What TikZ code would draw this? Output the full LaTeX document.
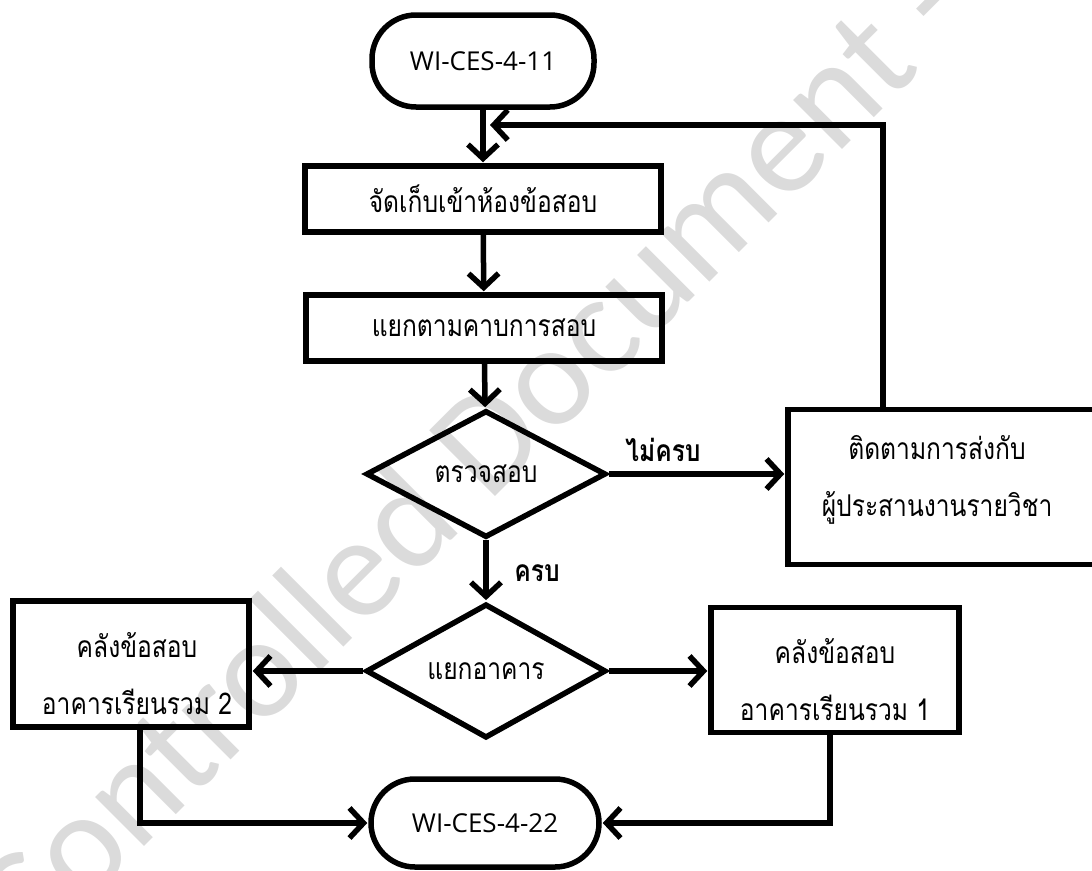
\documentclass[tikz,border=0pt]{standalone}
\usepackage{fontspec}
\setmainfont{Open Sans}
\newfontfamily\thai[Script=Thai, FakeStretch=0.82]{Loma}
\newfontfamily\wmfont{Carlito}
\usetikzlibrary{shapes.geometric,arrows.meta}
\begin{document}
\begin{tikzpicture}[x=1pt,y=-1pt,
  line width=5.5pt,
  box/.style={draw, rectangle, inner sep=0pt, font=\thai\fontsize{30}{57}\selectfont, align=center},
  txt/.style={inner sep=0pt, font=\thai\fontsize{30}{57}\selectfont, align=center},
  term/.style={draw, rectangle, rounded corners=44pt, inner sep=0pt, font=\fontsize{26}{30}\selectfont},
  dec/.style={draw, diamond, inner sep=0pt, minimum width=240pt, minimum height=127pt, font=\thai\fontsize{30}{34}\selectfont},
  lbl/.style={font=\thai\bfseries\fontsize{30}{34}\selectfont, inner sep=0pt},
  arr/.style={-{Straight Barb[length=14pt,width=30pt]}, shorten >=1pt},
  wm/.style={text=black!14, font=\wmfont\fontsize{145}{150}\selectfont, rotate=45, inner sep=0pt}
]
\clip (0,0) rectangle (1092,870);
\node[wm] (wm) at (468,453) {Controlled Document -};
\node[term, minimum width=222pt, minimum height=92pt] (s) at (483,61) {WI-CES-4-11};
\node[box, minimum width=356pt, minimum height=66pt] (b1) at (483,199) {จัดเก็บเข้าห้องข้อสอบ};
\node[box, minimum width=356pt, minimum height=66pt] (b2) at (484,328) {แยกตามคาบการสอบ};
\node[dec] (d1) at (486,474) {ตรวจสอบ};
\node[box, minimum width=308pt, minimum height=155pt] (b3) at (942,487) {};
\node[txt] (t3) at (937,480) {ติดตามการส่งกับ\\ผู้ประสานงานรายวิชา};
\node[dec] (d2) at (486,671) {แยกอาคาร};
\node[box, minimum width=236pt, minimum height=126pt] (b4) at (131,664) {};
\node[txt] (t4) at (137,674) {คลังข้อสอบ\\อาคารเรียนรวม 2};
\node[box, minimum width=248pt, minimum height=125pt] (b5) at (835,670) {};
\node[txt] (t5) at (835,680) {คลังข้อสอบ\\อาคารเรียนรวม 1};
\node[term, minimum width=228pt, minimum height=88pt] (e) at (485,823) {WI-CES-4-22};
\node[lbl] (l1) at (663,450) {ไม่ครบ};
\node[lbl] (l2) at (537,573) {ครบ};
\coordinate (fb) at (489,125);
\coordinate (fbx) at (883,408);
\draw[arr] (s) -- (b1);
\draw[arr] (b1) -- (b2);
\draw[arr] (b2) -- (d1);
\draw[arr] (d1.east) -- (d1.east -| b3.west);
\draw[arr] (d1) -- (d2);
\draw[arr] (d2.west) -- (d2.west -| b4.east);
\draw[arr] (d2.east) -- (d2.east -| b5.west);
\draw[arr] ([xshift=9pt]b4.south) |- (e.west);
\draw[arr] ([xshift=-5pt]b5.south) |- (e.east);
\draw[arr] (b3.north -| fbx) |- (fb);
\end{tikzpicture}
\end{document}
